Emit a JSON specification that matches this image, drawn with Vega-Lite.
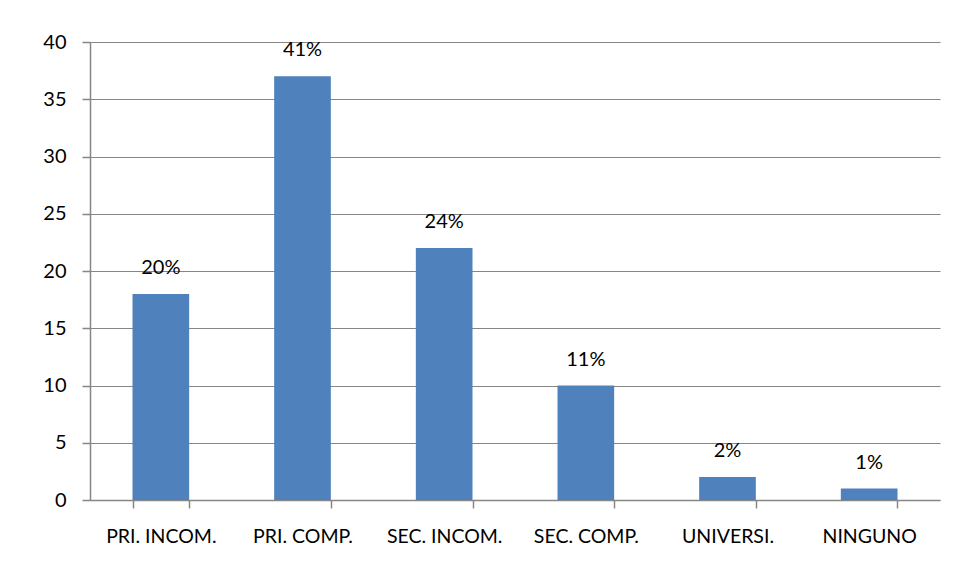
{
  "$schema": "https://vega.github.io/schema/vega-lite/v6.json",
  "autosize": {"type": "none"},
  "padding": {"left": 90, "top": 42, "right": 15, "bottom": 80},
  "width": 850,
  "height": 458,
  "background": "white",
  "config": {
    "view": {"stroke": null},
    "font": "Lato"
  },
  "data": {
    "values": [
      {"nivel": "PRI. INCOM.", "valor": 18, "pct": "20%"},
      {"nivel": "PRI. COMP.", "valor": 37, "pct": "41%"},
      {"nivel": "SEC. INCOM.", "valor": 22, "pct": "24%"},
      {"nivel": "SEC. COMP.", "valor": 10, "pct": "11%"},
      {"nivel": "UNIVERSI.", "valor": 2, "pct": "2%"},
      {"nivel": "NINGUNO", "valor": 1, "pct": "1%"}
    ]
  },
  "encoding": {
    "x": {
      "field": "nivel",
      "type": "nominal",
      "sort": null,
      "scale": {"paddingInner": 0.6, "paddingOuter": 0.3},
      "axis": {
        "title": null,
        "labelAngle": 0,
        "labelFont": "Lato",
        "labelFontSize": 19.5,
        "labelColor": "#000000",
        "labelPadding": 19,
        "tickBand": "extent",
        "tickSize": 8,
        "tickColor": "#868686",
        "domainColor": "#868686",
        "domainWidth": 1.5,
        "tickWidth": 1.5,
        "grid": false
      }
    },
    "y": {
      "field": "valor",
      "type": "quantitative",
      "scale": {"domain": [0, 40], "nice": false},
      "axis": {
        "title": null,
        "values": [0, 5, 10, 15, 20, 25, 30, 35, 40],
        "labelFont": "Lato",
        "labelFontSize": 20,
        "labelColor": "#000000",
        "labelPadding": 16,
        "tickSize": 8,
        "tickColor": "#868686",
        "domainColor": "#868686",
        "domainWidth": 1.5,
        "tickWidth": 1.5,
        "gridColor": "#868686",
        "gridWidth": 1.2,
        "gridOpacity": 1
      }
    }
  },
  "layer": [
    {"mark": {"type": "bar", "color": "#4F81BD"}},
    {
      "mark": {"type": "text", "dy": -16, "baseline": "bottom", "fontSize": 20, "font": "Lato", "color": "#000000"},
      "encoding": {"text": {"field": "pct"}}
    }
  ]
}
